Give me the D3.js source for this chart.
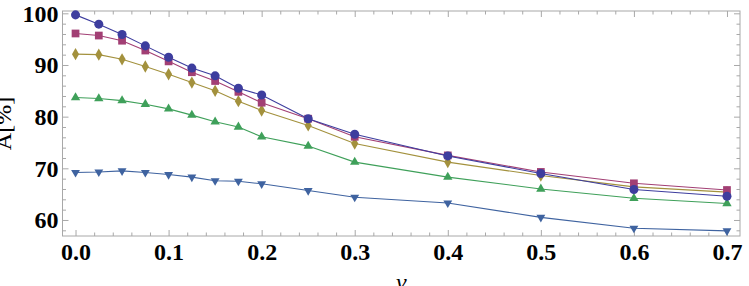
<!DOCTYPE html>
<html>
<head>
<meta charset="utf-8">
<script src="https://cdn.jsdelivr.net/npm/d3@7"></script>
<style>
  body { margin: 0; background: #fff; }
  svg { display: block; }
  .tick line { stroke: #a8a8a8; }
</style>
</head>
<body>
<svg id="chart"></svg>
<script>
// x positions (nu)
const nu = [0, 0.025, 0.05, 0.075, 0.1, 0.125, 0.15, 0.175, 0.2, 0.25, 0.3, 0.4, 0.5, 0.6, 0.7];

// A [%] for each series
const circleSeries  = [99.7, 97.9, 95.9, 93.7, 91.5, 89.4, 87.9, 85.5, 84.2, 79.6, 76.6, 72.4, 69.0, 65.9, 64.6];
const squareSeries  = [96.1, 95.7, 94.7, 92.8, 90.7, 88.6, 86.9, 84.8, 82.7, 79.6, 76.1, 72.5, 69.3, 67.1, 65.8];
const diamondSeries = [92.1, 92.0, 91.1, 89.7, 88.2, 86.6, 85.0, 83.0, 81.2, 78.3, 74.8, 71.2, 68.6, 66.4, 65.4];
const upSeries      = [83.7, 83.5, 83.1, 82.4, 81.5, 80.3, 79.0, 78.0, 76.1, 74.3, 71.2, 68.3, 66.0, 64.2, 63.2];
const downSeries    = [69.2, 69.3, 69.5, 69.2, 68.8, 68.3, 67.6, 67.5, 67.0, 65.7, 64.4, 63.3, 60.5, 58.4, 57.9];

const xTicks = [0, 0.1, 0.2, 0.3, 0.4, 0.5, 0.6, 0.7];
const xMinor = d3.range(0, 0.7001, 0.02).filter(v => Math.abs(v * 10 - Math.round(v * 10)) > 1e-6);
const yTicks = [60, 70, 80, 90, 100];
const yMinor = d3.range(58, 100.5, 2).filter(v => v % 10 !== 0);

const width = 749;
const height = 286;
const serif = "Liberation Serif";

const series = [
    { values: circleSeries,  color: "#3d3d9e", symbol: d3.symbolCircle,   size: 64 },
    { values: squareSeries,  color: "#a23f74", symbol: d3.symbolSquare,   size: 60 },
    { values: diamondSeries, color: "#a3913d", symbol: d3.symbolDiamond,  size: 44 },
    { values: upSeries,      color: "#3fa05a", symbol: d3.symbolTriangle, size: 38 },
    { values: downSeries,    color: "#3f63a0", symbol: d3.symbolTriangle, size: 34, flip: true }
];

const svg = d3.select("#chart")
    .attr("width", width)
    .attr("height", height);

const x = d3.scaleLinear().domain([-0.014, 0.714]).range([62.5, 740]);
const y = d3.scaleLinear().domain([56.9, 100.45]).range([236, 11]);

// frame
svg.append("rect")
    .attr("x", x.range()[0])
    .attr("y", y.range()[1])
    .attr("width", x.range()[1] - x.range()[0])
    .attr("height", y.range()[0] - y.range()[1])
    .attr("fill", "none")
    .attr("stroke", "#a8a8a8")
    .attr("stroke-width", 1);

function frameAxis(axis, transform) {
    const g = svg.append("g").attr("transform", transform).call(axis);
    g.select(".domain").remove();
    g.selectAll("text")
        .attr("font-family", serif)
        .attr("font-weight", "bold")
        .attr("font-size", 24)
        .attr("fill", "#000");
    return g;
}

// bottom
frameAxis(d3.axisBottom(x).tickValues(xTicks).tickFormat(d3.format(".1f")).tickSize(-6).tickPadding(7), `translate(0,${y.range()[0]})`);
frameAxis(d3.axisBottom(x).tickValues(xMinor).tickFormat("").tickSize(-3.5), `translate(0,${y.range()[0]})`);
// top
frameAxis(d3.axisTop(x).tickValues(xTicks).tickFormat("").tickSize(-6), `translate(0,${y.range()[1]})`);
frameAxis(d3.axisTop(x).tickValues(xMinor).tickFormat("").tickSize(-3.5), `translate(0,${y.range()[1]})`);
// left
frameAxis(d3.axisLeft(y).tickValues(yTicks).tickFormat(d3.format("d")).tickSize(-6).tickPadding(4), `translate(${x.range()[0]},0)`);
frameAxis(d3.axisLeft(y).tickValues(yMinor).tickFormat("").tickSize(-3.5), `translate(${x.range()[0]},0)`);
// right
frameAxis(d3.axisRight(y).tickValues(yTicks).tickFormat("").tickSize(-6), `translate(${x.range()[1]},0)`);
frameAxis(d3.axisRight(y).tickValues(yMinor).tickFormat("").tickSize(-3.5), `translate(${x.range()[1]},0)`);

const line = d3.line()
    .x((d, i) => x(nu[i]))
    .y(d => y(d));

// draw bottom series first so the top ones sit above
series.slice().reverse().forEach(s => {
    svg.append("path")
        .datum(s.values)
        .attr("fill", "none")
        .attr("stroke", s.color)
        .attr("stroke-width", 1.1)
        .attr("d", line);
});

series.slice().reverse().forEach(s => {
    const sym = d3.symbol().type(s.symbol).size(s.size);
    svg.append("g")
        .selectAll("path")
        .data(s.values)
        .enter()
        .append("path")
        .attr("d", sym)
        .attr("fill", s.color)
        .attr("transform", (d, i) => `translate(${x(nu[i])},${y(d)})${s.flip ? " rotate(180)" : ""}`);
});

// axis labels
svg.append("text")
    .attr("transform", `translate(11,${(y.range()[0] + y.range()[1]) / 2}) rotate(-90)`)
    .attr("text-anchor", "middle")
    .attr("font-family", serif)
    .attr("font-size", 24)
    .text("A[%]");

svg.append("text")
    .attr("x", (x.range()[0] + x.range()[1]) / 2)
    .attr("y", 290)
    .attr("text-anchor", "middle")
    .attr("font-family", serif)
    .attr("font-style", "italic")
    .attr("font-size", 24)
    .text("ν");
</script>
</body>
</html>
